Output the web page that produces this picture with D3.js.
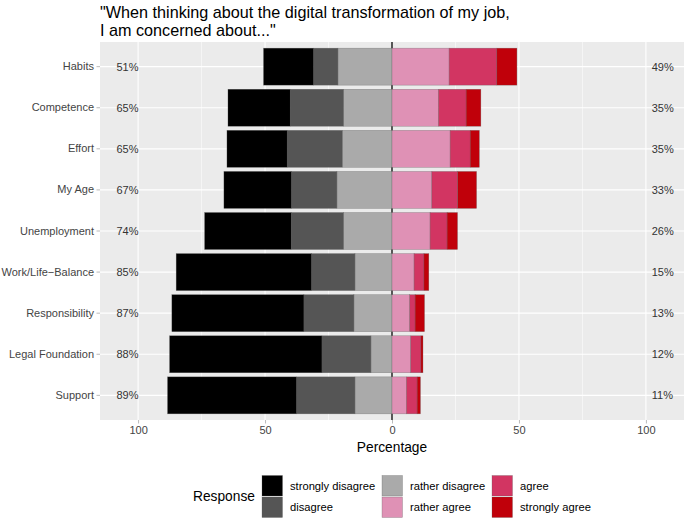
<!DOCTYPE html>
<html>
<head>
<meta charset="utf-8">
<script src="https://cdn.jsdelivr.net/npm/d3@7"></script>
<style>
  body { margin: 0; background: #fff; }
  svg { font-family: "Liberation Sans", Arial, sans-serif; }
</style>
</head>
<body>
<svg width="685" height="518"></svg>
<script>

var categories = ["Habits", "Competence", "Effort", "My Age", "Unemployment",
  "Work/Life\u2212Balance", "Responsibility", "Legal Foundation", "Support"];

// percentages per response level
var stronglyDisagree = [19.7, 24.5, 23.7, 26.6, 34.1, 53.3, 52.0, 60.0, 50.8];
var disagree         = [9.6, 21.0, 21.7, 17.9, 20.6, 17.1, 19.7, 19.3, 23.0];
var ratherDisagree   = [21.3, 19.1, 19.6, 21.7, 19.1, 14.6, 15.0, 8.3, 14.6];
var ratherAgree      = [22.5, 18.3, 22.9, 15.7, 15.0, 8.7, 7.0, 7.4, 5.7];
var agree            = [18.8, 10.9, 7.9, 10.2, 6.7, 3.9, 2.1, 4.0, 4.2];
var stronglyAgree    = [7.9, 5.8, 3.6, 7.4, 4.1, 1.9, 3.7, 0.8, 1.3];

var lowLabels  = ["51%", "65%", "65%", "67%", "74%", "85%", "87%", "88%", "89%"];
var highLabels = ["49%", "35%", "35%", "33%", "26%", "15%", "13%", "12%", "11%"];

var levels = ["strongly disagree", "disagree", "rather disagree",
  "rather agree", "agree", "strongly agree"];
var colors = ["#000000", "#555555", "#AAAAAA", "#DF91B5", "#D23562", "#C0000A"];

var xTicks = [-100, -50, 0, 50, 100];
var xMinor = [-75, -25, 25, 75];

var svg = d3.select("svg");

var x = d3.scaleLinear().domain([-115, 115]).range([100, 684]);
var y = d3.scaleBand().domain(categories).range([42, 420])
  .paddingInner(0.1).paddingOuter(0.15);
var color = d3.scaleOrdinal().domain(levels).range(colors);

// panel
svg.append("rect")
  .attr("x", x.range()[0]).attr("y", 42)
  .attr("width", x.range()[1] - x.range()[0]).attr("height", 378)
  .attr("fill", "#EBEBEB");

svg.selectAll(".minor")
  .data(xMinor).enter().append("line")
  .attr("x1", function(d){ return x(d); }).attr("x2", function(d){ return x(d); })
  .attr("y1", 42).attr("y2", 420)
  .attr("stroke", "#fff").attr("stroke-width", 0.55);

svg.selectAll(".major")
  .data(xTicks).enter().append("line")
  .attr("x1", function(d){ return x(d); }).attr("x2", function(d){ return x(d); })
  .attr("y1", 42).attr("y2", 420)
  .attr("stroke", "#fff").attr("stroke-width", 1.1);

svg.selectAll(".hgrid")
  .data(categories).enter().append("line")
  .attr("x1", 100).attr("x2", 684)
  .attr("y1", function(d){ return y(d) + y.bandwidth() / 2; })
  .attr("y2", function(d){ return y(d) + y.bandwidth() / 2; })
  .attr("stroke", "#fff").attr("stroke-width", 1.1);

// zero line
svg.append("line")
  .attr("x1", x(0)).attr("x2", x(0)).attr("y1", 42).attr("y2", 420)
  .attr("stroke", "#000").attr("stroke-width", 1.3);

// build the stacked segments
var series = [stronglyDisagree, disagree, ratherDisagree, ratherAgree, agree, stronglyAgree];
var segs = [];
categories.forEach(function(c, i){
  var lo = 0;
  [2, 1, 0].forEach(function(k){
    segs.push({cat: c, level: levels[k], x0: lo - series[k][i], x1: lo});
    lo -= series[k][i];
  });
  var hi = 0;
  [3, 4, 5].forEach(function(k){
    segs.push({cat: c, level: levels[k], x0: hi, x1: hi + series[k][i]});
    hi += series[k][i];
  });
});

svg.selectAll(".seg")
  .data(segs).enter().append("rect")
  .attr("x", function(d){ return x(d.x0); })
  .attr("width", function(d){ return x(d.x1) - x(d.x0); })
  .attr("y", function(d){ return y(d.cat); })
  .attr("height", y.bandwidth())
  .attr("fill", function(d){ return color(d.level); })
  .attr("stroke", "rgba(90,90,90,0.55)").attr("stroke-width", 0.5);

// percent labels
svg.selectAll(".low")
  .data(categories).enter().append("text")
  .attr("x", x(-108.5))
  .attr("y", function(d){ return y(d) + y.bandwidth() / 2 + 4; })
  .attr("font-size", 11).attr("fill", "#333")
  .text(function(d, i){ return lowLabels[i]; });

svg.selectAll(".high")
  .data(categories).enter().append("text")
  .attr("x", x(102.3))
  .attr("y", function(d){ return y(d) + y.bandwidth() / 2 + 4; })
  .attr("font-size", 11).attr("fill", "#333")
  .text(function(d, i){ return highLabels[i]; });

// axes
var yAxis = svg.append("g")
  .attr("transform", "translate(100,0)")
  .call(d3.axisLeft(y).tickSize(3.5).tickPadding(2.5));
yAxis.select(".domain").remove();
yAxis.selectAll("line").attr("stroke", "#bbb");
yAxis.selectAll("text").attr("font-size", 11).attr("fill", "#444")
  .attr("font-family", "Liberation Sans, Arial, sans-serif");

var xAxis = svg.append("g")
  .attr("transform", "translate(0,420)")
  .call(d3.axisBottom(x).tickValues(xTicks).tickSize(3.5).tickPadding(3)
    .tickFormat(function(d){ return Math.abs(d); }));
xAxis.select(".domain").remove();
xAxis.selectAll("line").attr("stroke", "#bbb");
xAxis.selectAll("text").attr("font-size", 11).attr("fill", "#444")
  .attr("font-family", "Liberation Sans, Arial, sans-serif");

svg.append("text")
  .attr("x", x(0)).attr("y", 452)
  .attr("text-anchor", "middle").attr("font-size", 13.75).attr("fill", "#000")
  .text("Percentage");

// title
svg.append("text")
  .attr("x", 100).attr("y", 18)
  .attr("font-size", 16.2).attr("fill", "#000")
  .text("\"When thinking about the digital transformation of my job,");
svg.append("text")
  .attr("x", 100).attr("y", 36)
  .attr("font-size", 16.2).attr("fill", "#000")
  .text("I am concerned about...\"");

// legend
var legend = svg.append("g");
legend.append("text")
  .attr("x", 193).attr("y", 501)
  .attr("font-size", 13.75).attr("fill", "#000")
  .text("Response");

var keyCols = [262, 382, 492];
var keyRows = [475.5, 497];
var items = legend.selectAll(".item")
  .data(levels).enter().append("g")
  .attr("transform", function(d, i){
    return "translate(" + keyCols[Math.floor(i / 2)] + "," + keyRows[i % 2] + ")";
  });
items.append("rect")
  .attr("width", 20.5).attr("height", 20.5)
  .attr("fill", function(d){ return color(d); })
  .attr("stroke", "rgba(90,90,90,0.55)").attr("stroke-width", 0.5);
items.append("text")
  .attr("x", 28).attr("y", 14.3)
  .attr("font-size", 11.2).attr("fill", "#000")
  .text(function(d){ return d; });

</script>
</body>
</html>
